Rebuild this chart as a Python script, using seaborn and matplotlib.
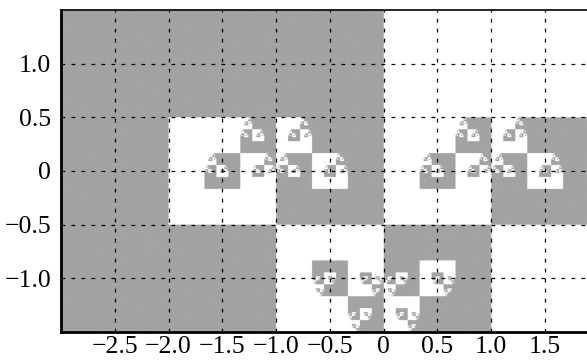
import numpy as np
import matplotlib
matplotlib.use("Agg")
import matplotlib.pyplot as plt
import seaborn as sns

# unit-square layout, rows from top (y=1.5) to bottom,
# columns from x=-3 to x=2.  F = shaded, W = white,
# A = mostly white with detail, B = mostly shaded with detail,
# a / b = the same tiles flipped upside down
layout = ["FFFWW",
          "FABAB",
          "FFabW"]

# 3x3 subdivision of the two detailed tiles
tile_A = ["WWB",
          "WBA",
          "WWW"]
tile_B = ["AFF",
          "BAF",
          "FFF"]

x_ticks = [-2.5, -2.0, -1.5, -1.0, -0.5, 0, 0.5, 1.0, 1.5]
x_labels = ["\u22122.5", "\u22122.0", "\u22121.5", "\u22121.0", "\u22120.5", "0", "0.5", "1.0", "1.5"]
y_ticks = [-1.0, -0.5, 0, 0.5, 1.0]
y_labels = ["\u22121.0", "\u22120.5", "0", "0.5", "1.0"]

depth = 5


def tile(code, d):
    n = 3 ** d
    if code == "F":
        return np.ones((n, n))
    if code == "W":
        return np.zeros((n, n))
    if code == "a":
        return np.flipud(tile("A", d))
    if code == "b":
        return np.flipud(tile("B", d))
    if d == 0:
        return np.full((1, 1), 0.3 if code == "A" else 0.7)
    pat = tile_A if code == "A" else tile_B
    return np.vstack([np.hstack([tile(c, d - 1) for c in row]) for row in pat])


mask = np.vstack([np.hstack([tile(c, depth) for c in row]) for row in layout])

sns.set_style("white")
plt.rcParams["font.family"] = ["Liberation Serif", "DejaVu Serif"]

fig = plt.figure(figsize=(5.87, 3.6), dpi=100)
ax = fig.add_axes([61 / 587, 28 / 360, 537.5 / 587, 322 / 360])

img = 1 - 0.36 * mask
ax.imshow(img, cmap="gray", vmin=0, vmax=1, extent=(-3, 2, -1.5, 1.5),
          origin="upper", interpolation="antialiased", aspect="auto", zorder=0)

ax.set_xlim(-3, 2)
ax.set_ylim(-1.5, 1.5)
ax.set_xticks(x_ticks)
ax.set_xticklabels(x_labels)
ax.set_yticks(y_ticks)
ax.set_yticklabels(y_labels)
ax.tick_params(labelsize=18.5, length=0, colors="black")
ax.tick_params(axis="x", pad=3)
ax.tick_params(axis="y", pad=7)

ax.set_axisbelow(False)
ax.grid(True, color="black", linestyle=(0, (3, 5)), linewidth=0.9)

for side in ["left", "bottom"]:
    ax.spines[side].set_linewidth(2.0)
    ax.spines[side].set_color("black")
ax.spines["top"].set_linewidth(1.2)
ax.spines["top"].set_color("black")
ax.spines["right"].set_visible(False)

fig.savefig("out.png", dpi=100)
